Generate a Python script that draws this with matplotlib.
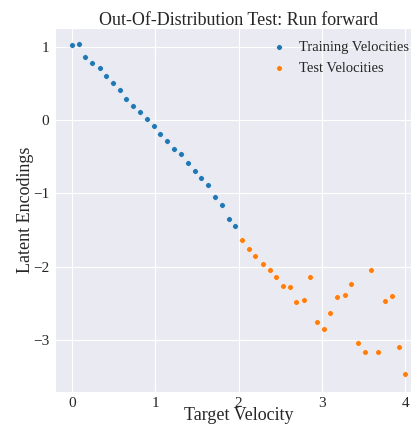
import matplotlib
matplotlib.use("Agg")
import matplotlib.pyplot as plt
import seaborn as sns

# Target velocities (x) and latent encodings (y)
train_vel = [0.00, 0.08, 0.16, 0.24, 0.33, 0.41, 0.49, 0.57, 0.65, 0.73,
             0.82, 0.90, 0.98, 1.06, 1.14, 1.22, 1.31, 1.39, 1.47, 1.55,
             1.63, 1.71, 1.80, 1.88, 1.96]
train_enc = [1.02, 1.04, 0.86, 0.78, 0.71, 0.60, 0.51, 0.405, 0.29, 0.195,
             0.11, 0.02, -0.08, -0.195, -0.29, -0.40, -0.46, -0.58, -0.70, -0.79,
             -0.89, -1.05, -1.16, -1.355, -1.45]

test_vel = [2.04, 2.12, 2.20, 2.29, 2.37, 2.45, 2.53, 2.61, 2.69, 2.78,
            2.86, 2.94, 3.02, 3.10, 3.18, 3.27, 3.35, 3.43, 3.51, 3.59,
            3.67, 3.76, 3.84, 3.92, 4.00]
test_enc = [-1.64, -1.76, -1.86, -1.96, -2.05, -2.14, -2.27, -2.28, -2.48, -2.45,
            -2.14, -2.75, -2.85, -2.63, -2.42, -2.39, -2.24, -3.04, -3.16, -2.05,
            -3.16, -2.47, -2.40, -3.10, -3.47]

sns.set_style("darkgrid")
plt.rcParams["font.family"] = ["Liberation Serif", "DejaVu Serif"]
plt.rcParams["mathtext.fontset"] = "stix"

fig = plt.figure(figsize=(4.11, 4.24), dpi=100)
ax = fig.add_axes([55 / 411, 32.3 / 424, 356 / 411, 363.7 / 424])

ax.scatter(train_vel, train_enc, s=16, color="#1f77b4", edgecolor="white",
           linewidth=0.3, label="Training Velocities", zorder=3)
ax.scatter(test_vel, test_enc, s=16, color="#ff7f0e", edgecolor="white",
           linewidth=0.3, label="Test Velocities", zorder=3)

ax.set_xlim(-0.204, 4.068)
ax.set_ylim(-3.707, 1.255)
ax.set_xticks([0, 1, 2, 3, 4])
ax.set_yticks([-3, -2, -1, 0, 1])
ax.tick_params(labelsize=11, pad=0.5)
ax.tick_params(axis="x", pad=0)

# the original axes seem to run a little past the cropped right edge,
# so the centred texts sit slightly right of the visible centre
ax.set_title("Out-Of-Distribution Test: Run forward", fontsize=13, pad=2, x=0.517)
ax.set_xlabel("Target Velocity", fontsize=13, labelpad=-2, x=0.517)
ax.set_ylabel("Latent Encodings", fontsize=13, labelpad=-0.5)

ax.legend(loc="upper right", bbox_to_anchor=(1.02, 0.99), frameon=False,
          fontsize=10.5, handletextpad=0.4, labelspacing=0.58,
          borderaxespad=0.2, markerscale=1.0)

fig.savefig("out.png", dpi=100)
